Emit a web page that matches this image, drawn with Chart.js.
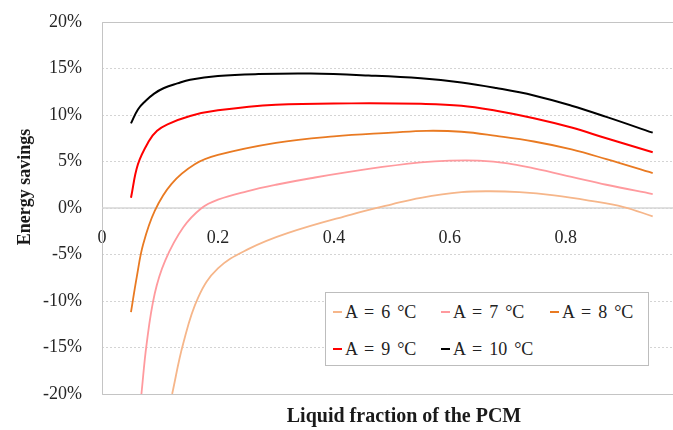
<!DOCTYPE html>
<html>
<head>
<meta charset="utf-8">
<script src="https://cdn.jsdelivr.net/npm/chart.js@4/dist/chart.umd.min.js"></script>
<style>
  html, body { margin: 0; padding: 0; background: #fff; }
  #wrap { position: relative; width: 673px; height: 430px; }
  #legend {
    position: absolute; left: 325px; top: 292px; width: 322px; height: 72px;
    border: 1px solid #bdbdbd; background: #fff;
    font: 18px "Liberation Serif", serif; color: #222; word-spacing: 2.5px;
  }
  #legend .item { position: absolute; display: flex; align-items: center; white-space: nowrap; }
  #legend .mark { display: inline-block; width: 9px; height: 2px; margin-right: 3px; }
</style>
</head>
<body>
<div id="wrap">
  <canvas id="c" width="673" height="430"></canvas>
  <div id="legend"></div>
</div>
<script>
// Energy savings vs liquid fraction of the PCM, one curve per amplitude A.
const labels = ["A = 6 °C", "A = 7 °C", "A = 8 °C", "A = 9 °C", "A = 10 °C"];
const colors = ["#F6B68A", "#FF9A9E", "#E97A22", "#FF0000", "#000000"];

const xA6 = [0.121, 0.14, 0.166, 0.2, 0.253, 0.32, 0.43, 0.5, 0.55, 0.62, 0.67, 0.72, 0.78, 0.84, 0.9, 0.95];
const yA6 = [-20, -14.6, -9.6, -6.5, -4.4, -2.7, -0.7, 0.4, 1.1, 1.7, 1.8, 1.7, 1.35, 0.8, 0.1, -0.9];

const xA7 = [0.068, 0.077, 0.091, 0.109, 0.14, 0.172, 0.2, 0.25, 0.3, 0.36, 0.46, 0.55, 0.6, 0.65, 0.7, 0.745, 0.81, 0.87, 0.95];
const yA7 = [-20, -14.6, -9.2, -5.65, -2.1, 0, 0.9, 1.8, 2.5, 3.2, 4.2, 4.9, 5.1, 5.1, 4.8, 4.25, 3.35, 2.5, 1.5];

const xA8 = [0.05, 0.06, 0.071, 0.091, 0.12, 0.16, 0.2, 0.3, 0.4, 0.5, 0.56, 0.62, 0.68, 0.745, 0.81, 0.87, 0.95];
const yA8 = [-11.2, -7.4, -3.9, -0.3, 2.6, 4.7, 5.7, 7.0, 7.7, 8.1, 8.3, 8.2, 7.75, 7.15, 6.3, 5.25, 3.75];

const xA9 = [0.05, 0.062, 0.081, 0.095, 0.113, 0.152, 0.2, 0.3, 0.43, 0.55, 0.62, 0.68, 0.745, 0.81, 0.87, 0.95];
const yA9 = [1.1, 4.7, 7.2, 8.3, 9.0, 9.9, 10.5, 11.1, 11.25, 11.2, 11.0, 10.45, 9.65, 8.65, 7.5, 6.0];

const xA10 = [0.05, 0.062, 0.075, 0.09, 0.107, 0.13, 0.152, 0.2, 0.27, 0.36, 0.46, 0.55, 0.62, 0.68, 0.745, 0.81, 0.87, 0.95];
const yA10 = [9.1, 10.6, 11.5, 12.3, 12.9, 13.4, 13.8, 14.2, 14.4, 14.45, 14.25, 13.95, 13.5, 12.9, 12.1, 11.0, 9.8, 8.1];

const xTicks = [0, 0.2, 0.4, 0.6, 0.8];
const yTicks = [-20, -15, -10, -5, 0, 5, 10, 15, 20];

const SERIF = '"Liberation Serif", serif';
const series = [[xA6, yA6], [xA7, yA7], [xA8, yA8], [xA9, yA9], [xA10, yA10]];

// frame (left/top/bottom), solid zero line and the two axis titles
const decor = {
  id: "decor",
  beforeDatasetsDraw(chart) {
    const { ctx, chartArea: a, scales } = chart;
    const y0 = scales.y.getPixelForValue(0);
    ctx.save();
    ctx.strokeStyle = "#c4c4c4";
    ctx.lineWidth = 1;
    ctx.beginPath();
    ctx.moveTo(a.right, a.top + 0.5); ctx.lineTo(a.left + 0.5, a.top + 0.5);
    ctx.lineTo(a.left + 0.5, a.bottom + 0.5); ctx.lineTo(a.right, a.bottom + 0.5);
    ctx.stroke();
    ctx.strokeStyle = "#d6d6d6";
    ctx.lineWidth = 1.5;
    ctx.beginPath();
    ctx.moveTo(a.left, y0); ctx.lineTo(a.right, y0);
    ctx.stroke();
    ctx.restore();
  },
  afterDraw(chart) {
    const { ctx } = chart;
    ctx.save();
    ctx.fillStyle = "#1a1a1a";
    ctx.textAlign = "center";
    ctx.textBaseline = "middle";
    ctx.font = "bold 20px " + SERIF;
    ctx.fillText("Liquid fraction of the PCM", 404, 417);
    ctx.font = "bold 18px " + SERIF;
    ctx.translate(25, 187);
    ctx.rotate(-Math.PI / 2);
    ctx.fillText("Energy savings", 0, 0);
    ctx.restore();
  },
};

const chart = new Chart(document.getElementById("c"), {
  type: "line",
  data: {
    datasets: series.map(([xs, ys], i) => ({
      label: labels[i],
      data: xs.map((x, j) => ({ x, y: ys[j] })),
      borderColor: colors[i],
      backgroundColor: colors[i],
      borderWidth: i >= 3 ? 2 : 1.8,
      pointRadius: 0,
      tension: 0.4,
      fill: false,
    })),
  },
  options: {
    responsive: false,
    animation: false,
    layout: { padding: { top: 22, bottom: 36, left: 0, right: 0 } },
    plugins: { legend: { display: false }, tooltip: { enabled: false } },
    scales: {
      x: {
        type: "linear",
        position: { y: 0 },
        min: 0,
        max: 0.985,
        afterBuildTicks: (s) => { s.ticks = xTicks.map((v) => ({ value: v })); },
        ticks: {
          color: "#262626",
          padding: 19,
          maxRotation: 0,
          font: { family: SERIF, size: 18 },
          callback: (v) => String(v),
        },
        grid: { display: false, drawTicks: false },
        border: { display: false },
      },
      y: {
        min: -20,
        max: 20,
        afterBuildTicks: (s) => { s.ticks = yTicks.map((v) => ({ value: v })); },
        afterFit: (s) => { s.width = 102; },
        ticks: {
          color: "#262626",
          padding: 2,
          font: { family: SERIF, size: 18 },
          callback: (v) => v + "%",
        },
        // invisible tick marks push the labels off the axis without
        // inflating the top/bottom label padding
        grid: { color: "#d4d4d4", lineWidth: 1, drawTicks: true, tickLength: 18, tickColor: "rgba(0,0,0,0)" },
        border: { display: false, dash: [2, 2] },
      },
    },
  },
  plugins: [decor],
});

// legend built from the chart's datasets, laid out like the original box
const legendPos = [[7, 19], [115, 19], [224, 19], [7, 56], [115, 56]];
const legendEl = document.getElementById("legend");
chart.data.datasets.forEach((ds, i) => {
  const item = document.createElement("div");
  item.className = "item";
  item.style.left = legendPos[i][0] + "px";
  item.style.top = (legendPos[i][1] - 11) + "px";
  item.style.height = "22px";
  item.innerHTML = `<span class="mark" style="background:${ds.borderColor}"></span><span>${ds.label}</span>`;
  legendEl.appendChild(item);
});
</script>
</body>
</html>
